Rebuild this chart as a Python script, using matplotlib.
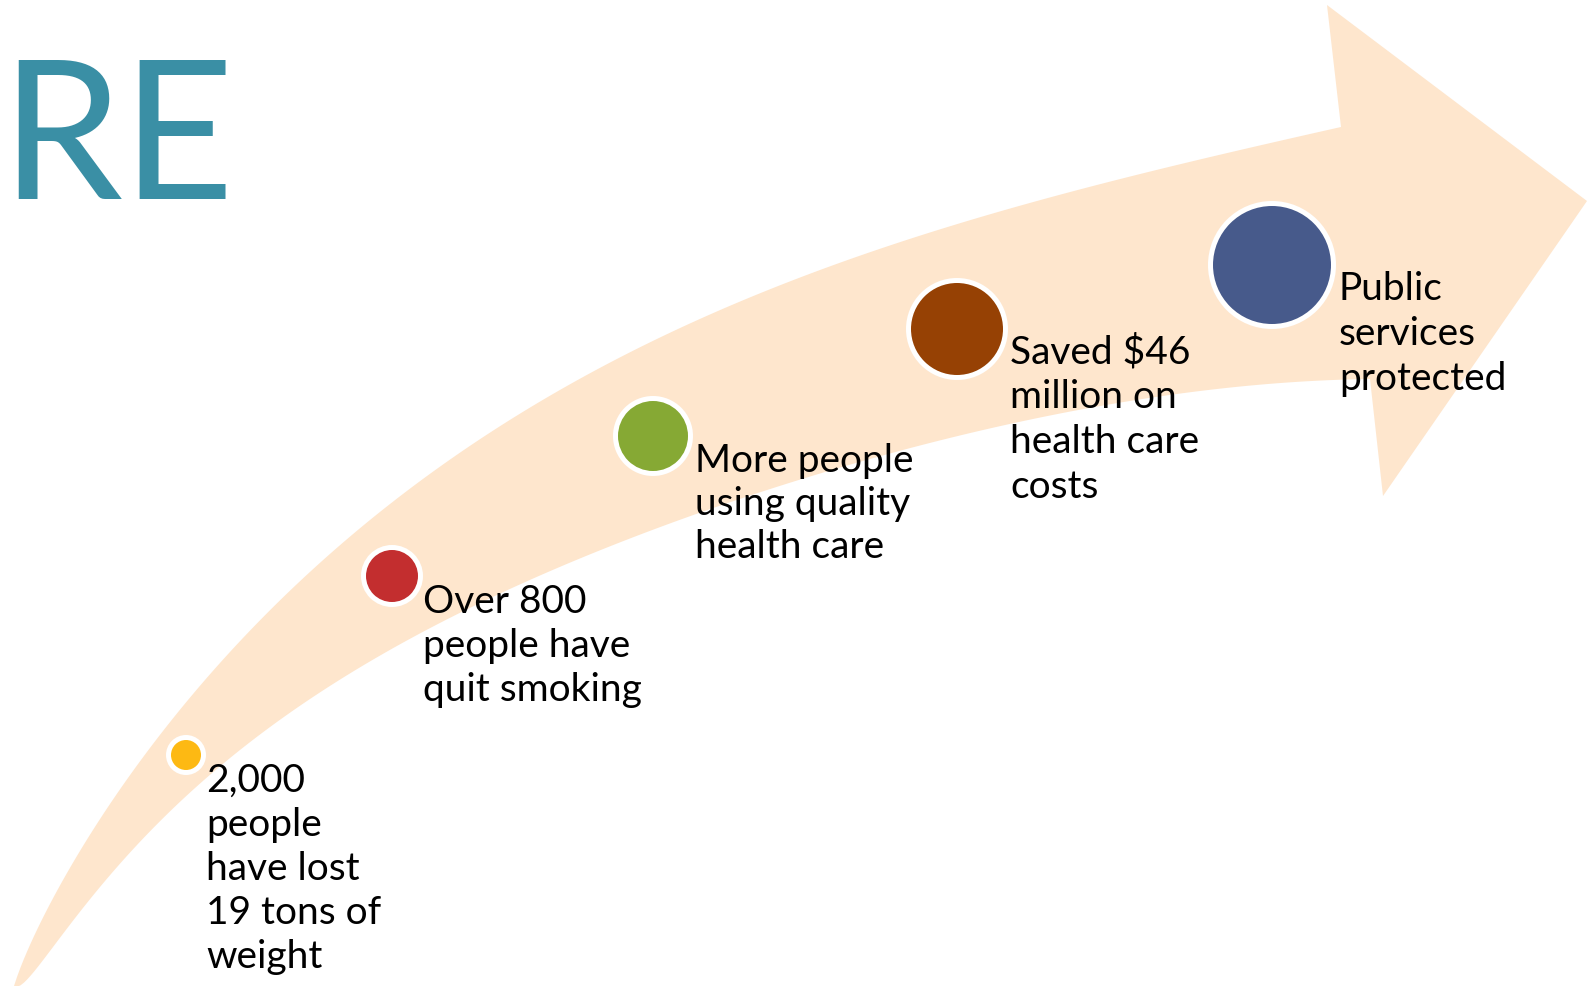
import numpy as np
import matplotlib
matplotlib.use("Agg")
import matplotlib.pyplot as plt
from matplotlib.patches import Polygon, Circle

W, H = 1591, 987

# Milestones along the arrow
labels = [
    ["2,000", "people", "have lost", "19 tons of", "weight"],
    ["Over 800", "people have", "quit smoking"],
    ["More people", "using quality", "health care"],
    ["Saved $46", "million on", "health care", "costs"],
    ["Public", "services", "protected"],
]
dot_x = [186, 392, 653, 957, 1272]
dot_y = [756, 577, 437, 330, 266]
dot_r = [15, 26, 35, 46, 59]
dot_colors = ["#FDB913", "#C32E2F", "#86A934", "#964104", "#475A8B"]

# Label anchors: left edge, first baseline, line step
label_x = [206, 423, 695, 1010, 1339]
label_y = [792, 613, 472, 363, 300]
label_step = [44, 44, 43, 45, 45]

# Outline of the curved arrow body
outer_edge = [(14, 987), (40, 930), (62, 880), (125, 782), (185, 702), (233, 649),
              (300, 582), (367, 528), (440, 472), (547, 395), (713, 310),
              (880, 250), (1027, 207), (1193, 163), (1341, 128)]
inner_edge = [(14, 987), (67, 930), (103, 885), (207, 775), (315, 700),
              (440, 624), (600, 550), (760, 494), (930, 443), (1177, 396),
              (1370, 380)]
head = [(1341, 128), (1327, 6), (1587, 202), (1383, 497), (1370, 380)]


def smooth_edge(points, deg=5, n=400):
    """Least-squares polynomial y(x) through the edge samples, ends pinned."""
    P = np.asarray(points, float)
    w = np.ones(len(P))
    w[0] = w[-1] = 30.0
    # work in sqrt-space near the tail where the edge is steep
    u = np.sqrt(P[:, 0] - P[0, 0] + 4.0)
    coef = np.polyfit(u, P[:, 1], deg, w=w)
    xs = np.linspace(P[0, 0], P[-1, 0], n)
    ys = np.polyval(coef, np.sqrt(xs - P[0, 0] + 4.0))
    xs[0], ys[0] = P[0]
    xs[-1], ys[-1] = P[-1]
    return np.column_stack([xs, ys])


fig = plt.figure(figsize=(W / 100, H / 100), dpi=100)
ax = fig.add_axes([0, 0, 1, 1])
ax.set_xlim(0, W)
ax.set_ylim(H, 0)
ax.axis("off")

outline = np.vstack([smooth_edge(outer_edge), np.asarray(head[1:4], float),
                     smooth_edge(inner_edge)[::-1]])
ax.add_patch(Polygon(outline, closed=True, facecolor="#FEE6CD",
                     edgecolor="none", zorder=1))

for x, y, r, c in zip(dot_x, dot_y, dot_r, dot_colors):
    ax.add_patch(Circle((x, y), r + 5, facecolor="white", edgecolor="none", zorder=2))
    ax.add_patch(Circle((x, y), r, facecolor=c, edgecolor="none", zorder=3))

for lines, x, y, step in zip(labels, label_x, label_y, label_step):
    for k, line in enumerate(lines):
        ax.text(x, y + k * step, line, fontsize=28, family="Lato",
                color="black", ha="left", va="baseline", zorder=4)

ax.text(0, 199, "RE", fontsize=140, family="Lato", color="#3A8FA5",
        ha="left", va="baseline", zorder=4)

fig.savefig("out.png", dpi=100)
